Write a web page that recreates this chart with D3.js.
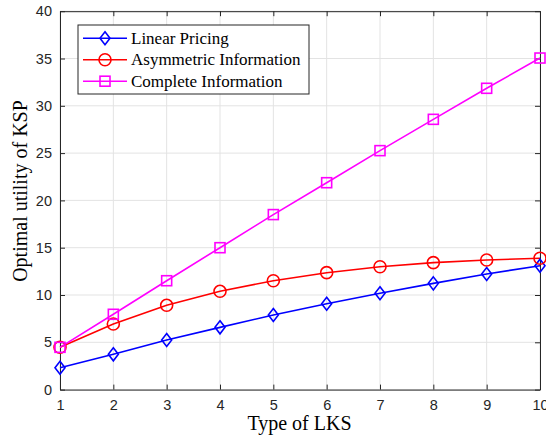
<!DOCTYPE html>
<html><head><meta charset="utf-8">
<script src="https://cdn.jsdelivr.net/npm/d3@7"></script>
<style>body{margin:0;background:#fff}svg{display:block}</style>
</head><body>
<script>
const types = [1,2,3,4,5,6,7,8,9,10];
const linearPricing = [2.31,3.73,5.24,6.58,7.89,9.08,10.18,11.23,12.22,13.1];
const asymmetricInfo = [4.47,6.93,8.91,10.39,11.51,12.36,12.99,13.42,13.7,13.88];
const completeInfo = [4.47,7.96,11.51,15.0,18.5,21.87,25.26,28.57,31.85,35.05];
const xTicks = [1,2,3,4,5,6,7,8,9,10];
const yTicks = [0,5,10,15,20,25,30,35,40];
const seriesNames = ["Linear Pricing","Asymmetric Information","Complete Information"];

const W=546,H=435;
const L=60,R=540,T=11.2,B=389.6;
const svg=d3.select("body").append("svg").attr("width",W).attr("height",H);
const x=d3.scaleLinear().domain([1,10]).range([L,R]);
const y=d3.scaleLinear().domain([0,40]).range([B,T]);

// grid
const g=svg.append("g");
g.selectAll(".gx").data(xTicks).join("line").attr("x1",d=>x(d)).attr("x2",d=>x(d)).attr("y1",T).attr("y2",B).attr("stroke","#e3e3e3").attr("stroke-width",1);
g.selectAll(".gy").data(yTicks).join("line").attr("y1",d=>y(d)).attr("y2",d=>y(d)).attr("x1",L).attr("x2",R).attr("stroke","#e3e3e3").attr("stroke-width",1);

const axColor="#262626";
const fontSans="'Liberation Sans', Arial, sans-serif";
const fontSerif="'Liberation Serif','DejaVu Serif',serif";
// axes
const xAx=svg.append("g").attr("transform",`translate(0,${B})`).call(d3.axisBottom(x).tickValues(xTicks).tickSizeInner(-5).tickSizeOuter(0).tickPadding(10));
const xAxT=svg.append("g").attr("transform",`translate(0,${T})`).call(d3.axisTop(x).tickValues(xTicks).tickSizeInner(-5).tickSizeOuter(0).tickFormat(""));
const yAx=svg.append("g").attr("transform",`translate(${L},0)`).call(d3.axisLeft(y).tickValues(yTicks).tickSizeInner(-5).tickSizeOuter(0).tickPadding(8));
const yAxR=svg.append("g").attr("transform",`translate(${R},0)`).call(d3.axisRight(y).tickValues(yTicks).tickSizeInner(-5).tickSizeOuter(0).tickFormat(""));
[xAx,xAxT,yAx,yAxR].forEach(a=>{
  a.selectAll("path").attr("stroke",axColor).attr("stroke-width",1);
  a.selectAll("line").attr("stroke",axColor);
  a.selectAll("text").attr("fill",axColor).style("font-family",fontSans).style("font-size","14.5px");
});

const line=d3.line().x((d,i)=>x(types[i])).y(d=>y(d));
const colors=["#0000ff","#ff0000","#ff00ff"];
const data=[linearPricing,asymmetricInfo,completeInfo];

function marker(sel,k,cx,cy){
  const c=colors[k];
  if(k===0){
    sel.append("path").attr("d",`M${cx},${cy-6.5}L${cx+5},${cy}L${cx},${cy+6.5}L${cx-5},${cy}Z`).attr("fill","none").attr("stroke",c).attr("stroke-width",1.6);
  } else if(k===1){
    sel.append("circle").attr("cx",cx).attr("cy",cy).attr("r",6).attr("fill","none").attr("stroke",c).attr("stroke-width",1.6);
  } else {
    sel.append("rect").attr("x",cx-5).attr("y",cy-5).attr("width",10).attr("height",10).attr("fill","none").attr("stroke",c).attr("stroke-width",1.6);
  }
}
const plot=svg.append("g");
data.forEach((arr,k)=>{
  plot.append("path").datum(arr).attr("d",line).attr("fill","none").attr("stroke",colors[k]).attr("stroke-width",1.6);
});
data.forEach((arr,k)=>{
  arr.forEach((v,i)=>marker(plot,k,x(types[i]),y(v)));
});

// legend
const lg=svg.append("g");
lg.append("rect").attr("x",78).attr("y",25).attr("width",231).attr("height",69).attr("fill","#fff").attr("stroke",axColor).attr("stroke-width",1);
const rowsY=[38.3,59.8,81.2];
seriesNames.forEach((n,k)=>{
  lg.append("line").attr("x1",83).attr("x2",127).attr("y1",rowsY[k]).attr("y2",rowsY[k]).attr("stroke",colors[k]).attr("stroke-width",1.6);
  marker(lg,k,105,rowsY[k]);
  lg.append("text").attr("x",131).attr("y",rowsY[k]+5.5).text(n).style("font-family",fontSerif).style("font-size","17px").attr("fill","#000");
});

// axis labels
svg.append("text").attr("x",299.5).attr("y",430).attr("text-anchor","middle").text("Type of LKS").style("font-family",fontSerif).style("font-size","20px").attr("fill","#000");
svg.append("text").attr("transform",`translate(27,191) rotate(-90)`).attr("text-anchor","middle").text("Optimal utility of KSP").style("font-family",fontSerif).style("font-size","20px").attr("fill","#000");
</script>
</body></html>
